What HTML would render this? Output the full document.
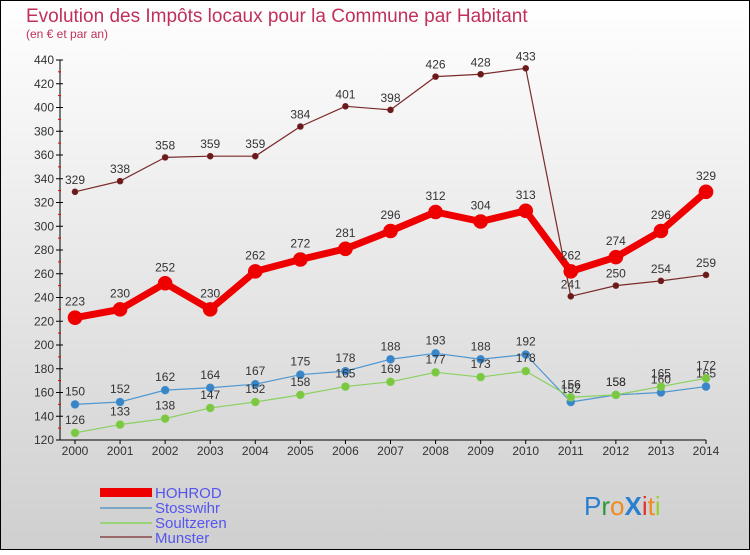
<!DOCTYPE html>
<html><head><meta charset="utf-8"><style>
html,body{margin:0;padding:0}
body{width:750px;height:550px;overflow:hidden;font-family:"Liberation Sans",sans-serif}
svg text{font-family:"Liberation Sans",sans-serif}
</style></head><body>
<svg id="chart" width="750" height="550" xmlns="http://www.w3.org/2000/svg">
<defs><linearGradient id="bg" x1="0" y1="0" x2="0" y2="1"><stop offset="0" stop-color="#ffffff"/><stop offset="1" stop-color="#cfcfcf"/></linearGradient></defs>
<rect x="0.5" y="0.5" width="749" height="549" fill="url(#bg)" stroke="#000"/>
<text x="26" y="22" font-size="19" fill="#c0305a">Evolution des Impôts locaux pour la Commune par Habitant</text>
<text x="26" y="38" font-size="12" fill="#c0305a">(en € et par an)</text>
<g id="axes"></g>
<g id="series"></g>
<g id="legend">
<rect x="100" y="488" width="52" height="9" fill="#e00"/>
<text x="155" y="498" font-size="15" fill="#5555ee">HOHROD</text>
<rect x="100" y="507" width="52" height="2" fill="#7aa6c8"/>
<text x="155" y="513" font-size="15" fill="#5555ee">Stosswihr</text>
<rect x="100" y="522" width="52" height="2" fill="#9bd57a"/>
<text x="155" y="528" font-size="15" fill="#5555ee">Soultzeren</text>
<rect x="100" y="536" width="52" height="2" fill="#9a6a6a"/>
<text x="155" y="543" font-size="15" fill="#5555ee">Munster</text>
</g>
<g font-size="26" font-family="'Liberation Sans',sans-serif">
<text x="584" y="515"><tspan fill="#2a7fd0">P</tspan><tspan fill="#2a9a3a">r</tspan><tspan fill="#f08a20">o</tspan><tspan fill="#2a7fd0" font-weight="bold">X</tspan><tspan fill="#e03030">i</tspan><tspan fill="#f08a20">t</tspan><tspan fill="#9ad030">i</tspan></text>
</g>
</svg>
<script>
const years = [2000,2001,2002,2003,2004,2005,2006,2007,2008,2009,2010,2011,2012,2013,2014];
const yTicks = [120,140,160,180,200,220,240,260,280,300,320,340,360,380,400,420,440];
const hohrod = [223,230,252,230,262,272,281,296,312,304,313,262,274,296,329];
const stosswihr = [150,152,162,164,167,175,178,188,193,188,192,152,158,160,165];
const soultzeren = [126,133,138,147,152,158,165,169,177,173,178,156,158,165,172];
const munster = [329,338,358,359,359,384,401,398,426,428,433,241,250,254,259];

const NS="http://www.w3.org/2000/svg";
const X0=75,X1=706,Y0=440,Y1=60,VMIN=120,VMAX=440;
const xs=i=>X0+(X1-X0)*i/(years.length-1);
const ys=v=>Y0-(Y0-Y1)*(v-VMIN)/(VMAX-VMIN);
function mk(tag,attrs,parent){const e=document.createElementNS(NS,tag);for(const k in attrs)e.setAttribute(k,attrs[k]);parent.appendChild(e);return e;}
const axes=document.getElementById('axes');
let a=mk('line',{x1:60,y1:Y1,x2:60,y2:Y0,stroke:'#000'},axes);


a=mk('line',{x1:60,y1:Y0,x2:X1,y2:Y0,stroke:'#000'},axes);


yTicks.forEach((t,i)=>{
  const y=ys(t);
  mk('line',{x1:56,y1:y,x2:63,y2:y,stroke:'#000'},axes);
  if(i<yTicks.length-1) mk('line',{x1:58,y1:y-11.9,x2:61,y2:y-11.9,stroke:'#e00'},axes);
  const tx=mk('text',{x:54,y:y+4,'font-size':12,'text-anchor':'end',fill:'#333'},axes);
  tx.textContent=t;
  
  
});
years.forEach((yr,i)=>{
  const x=xs(i);
  mk('line',{x1:x,y1:Y0,x2:x,y2:Y0+4,stroke:'#000'},axes);
  const tx=mk('text',{x:x,y:Y0+15,'font-size':12,'text-anchor':'middle',fill:'#333'},axes);
  tx.textContent=yr;
  
  
});
const sg=document.getElementById('series');
function draw(name,vals,color,dot,w,r,fs){
  const g=mk('g',{},sg);
  
  
  const pts=vals.map((v,i)=>xs(i)+','+ys(v)).join(' ');
  const l=mk('polyline',{points:pts,fill:'none',stroke:color,'stroke-width':w,'stroke-linejoin':'round'},g);
  
  
  vals.forEach((v,i)=>{
    const c=mk('circle',{cx:xs(i),cy:ys(v),r:r,fill:dot,stroke:color,'stroke-width':0.6},g);
    
    
    const t=mk('text',{x:xs(i),y:ys(v)-r-5,'font-size':fs,'text-anchor':'middle',fill:'#333'},g);
    t.textContent=v;
    
    
  });
}
draw('munster',munster,'#7a2a2a','#6a1a1a',1.2,3,12);
draw('stosswihr',stosswihr,'#4f97d0','#3a85c8',1.2,4,12);
draw('soultzeren',soultzeren,'#8bd060','#7ac840',1.2,4,12);
draw('hohrod',hohrod,'#ee0000','#ee0000',7,7,12);
</script>
</body></html>
